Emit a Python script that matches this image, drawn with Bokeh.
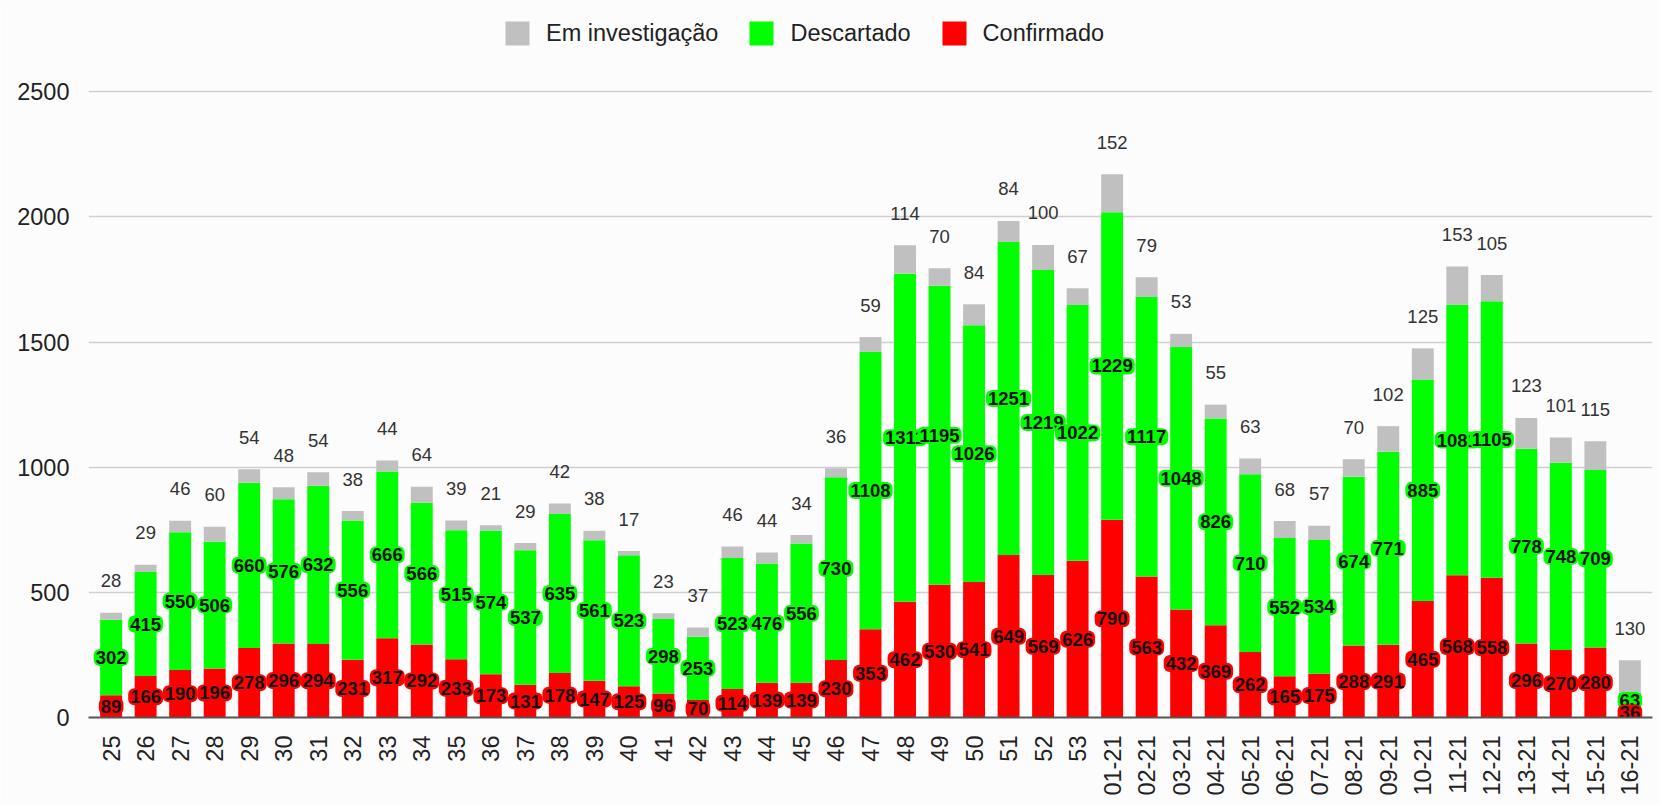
import math
from bokeh.plotting import figure
from bokeh.models import ColumnDataSource, Range1d, FixedTicker, Legend, LegendItem
from bokeh.core.properties import value
from bokeh.embed import file_html
from bokeh.resources import INLINE

weeks = ["25", "26", "27", "28", "29", "30", "31", "32", "33", "34", "35", "36", "37",
         "38", "39", "40", "41", "42", "43", "44", "45", "46", "47", "48", "49", "50",
         "51", "52", "53", "01-21", "02-21", "03-21", "04-21", "05-21", "06-21", "07-21",
         "08-21", "09-21", "10-21", "11-21", "12-21", "13-21", "14-21", "15-21", "16-21"]
confirmado = [89, 166, 190, 196, 278, 296, 294, 231, 317, 292, 233, 173, 131,
              178, 147, 125, 96, 70, 114, 139, 139, 230, 353, 462, 530, 541,
              649, 569, 626, 790, 563, 432, 369, 262, 165, 175,
              288, 291, 465, 568, 558, 296, 270, 280, 36]
descartado = [302, 415, 550, 506, 660, 576, 632, 556, 666, 566, 515, 574, 537,
              635, 561, 523, 298, 253, 523, 476, 556, 730, 1108, 1311, 1195, 1026,
              1251, 1219, 1022, 1229, 1117, 1048, 826, 710, 552, 534,
              674, 771, 885, 1081, 1105, 778, 748, 709, 63]
investigacao = [28, 29, 46, 60, 54, 48, 54, 38, 44, 64, 39, 21, 29,
                42, 38, 17, 23, 37, 46, 44, 34, 36, 59, 114, 70, 84,
                84, 100, 67, 152, 79, 53, 55, 63, 68, 57,
                70, 102, 125, 153, 105, 123, 101, 115, 130]
y_ticks = [0, 500, 1000, 1500, 2000, 2500]
series_names = ["Em investigação", "Descartado", "Confirmado"]

RED = "#ff0000"
GREEN = "#00ff00"
GRAY = "#c0c0c0"
AX_FONT = "Liberation Sans"
BG = "#fcfcfc"

src = ColumnDataSource(dict(
    week=weeks,
    conf=confirmado,
    desc=descartado,
    inv=investigacao,
    y_conf=[c / 2 for c in confirmado],
    y_desc=[c + d / 2 for c, d in zip(confirmado, descartado)],
    y_tot=[c + d + i for c, d, i in zip(confirmado, descartado, investigacao)],
    t_conf=[str(v) for v in confirmado],
    t_desc=[str(v) for v in descartado],
    t_inv=[str(v) for v in investigacao],
))

# frame: value 0 at page y 717, 2500 at page y 91.3, frame top at page y 0
y_top = 2500 * 717 / (717 - 91.3)

p = figure(x_range=weeks, y_range=Range1d(0, y_top), width=1660, height=805,
           output_backend="svg", toolbar_location=None,
           min_border_left=88, min_border_right=8, min_border_top=0, min_border_bottom=88)
p.x_range.range_padding = 0.0069
p.background_fill_color = BG
p.border_fill_color = BG
p.outline_line_color = None

rs = p.vbar_stack(["conf", "desc", "inv"], x="week", width=0.635,
                  color=[RED, GREEN, GRAY], line_color=None, source=src)

label_kw = dict(source=src, text_align="center", text_baseline="middle",
                text_font=value(AX_FONT), text_font_style="bold",
                text_font_size="18.5px", text_color="#111111",
                padding=2, border_radius=6)
p.text(x="week", y="y_desc", text="t_desc", background_fill_color=GREEN, **label_kw)
p.text(x="week", y="y_conf", text="t_conf", background_fill_color=RED, **label_kw)
p.text(x="week", y="y_tot", text="t_inv", source=src, text_align="center",
       text_baseline="middle", y_offset=-32, text_font=value(AX_FONT),
       text_font_size="18.5px", text_color="#333333")

legend = Legend(items=[LegendItem(label=series_names[0], renderers=[rs[2]]),
                       LegendItem(label=series_names[1], renderers=[rs[1]]),
                       LegendItem(label=series_names[2], renderers=[rs[0]])],
                orientation="horizontal", location=(414, 669), padding=0, margin=0,
                border_line_color=None, background_fill_alpha=0,
                glyph_width=30, glyph_height=30, label_standoff=14, spacing=28,
                label_text_font=AX_FONT, label_text_font_size="23.5px",
                label_text_color="#222222", label_text_baseline="middle")
p.add_layout(legend, "center")

p.xgrid.grid_line_color = None
p.ygrid.grid_line_color = "#cfcfcf"
p.ygrid.grid_line_width = 1.5

p.yaxis.ticker = FixedTicker(ticks=y_ticks)
p.yaxis.axis_line_color = None
p.yaxis.major_tick_line_color = None
p.yaxis.minor_tick_line_color = None
p.yaxis.major_label_standoff = 13
p.yaxis.major_label_text_font = AX_FONT
p.yaxis.major_label_text_font_size = "23.5px"
p.yaxis.major_label_text_color = "#222222"

p.xaxis.axis_line_color = "#555555"
p.xaxis.axis_line_width = 2
p.xaxis.major_tick_line_color = None
p.xaxis.minor_tick_line_color = None
p.xaxis.major_label_orientation = math.pi / 2
p.xaxis.major_label_standoff = 12
p.xaxis.major_label_text_font = AX_FONT
p.xaxis.major_label_text_font_size = "23.5px"
p.xaxis.major_label_text_color = "#222222"

open("out.html", "w").write(file_html(p, INLINE))
